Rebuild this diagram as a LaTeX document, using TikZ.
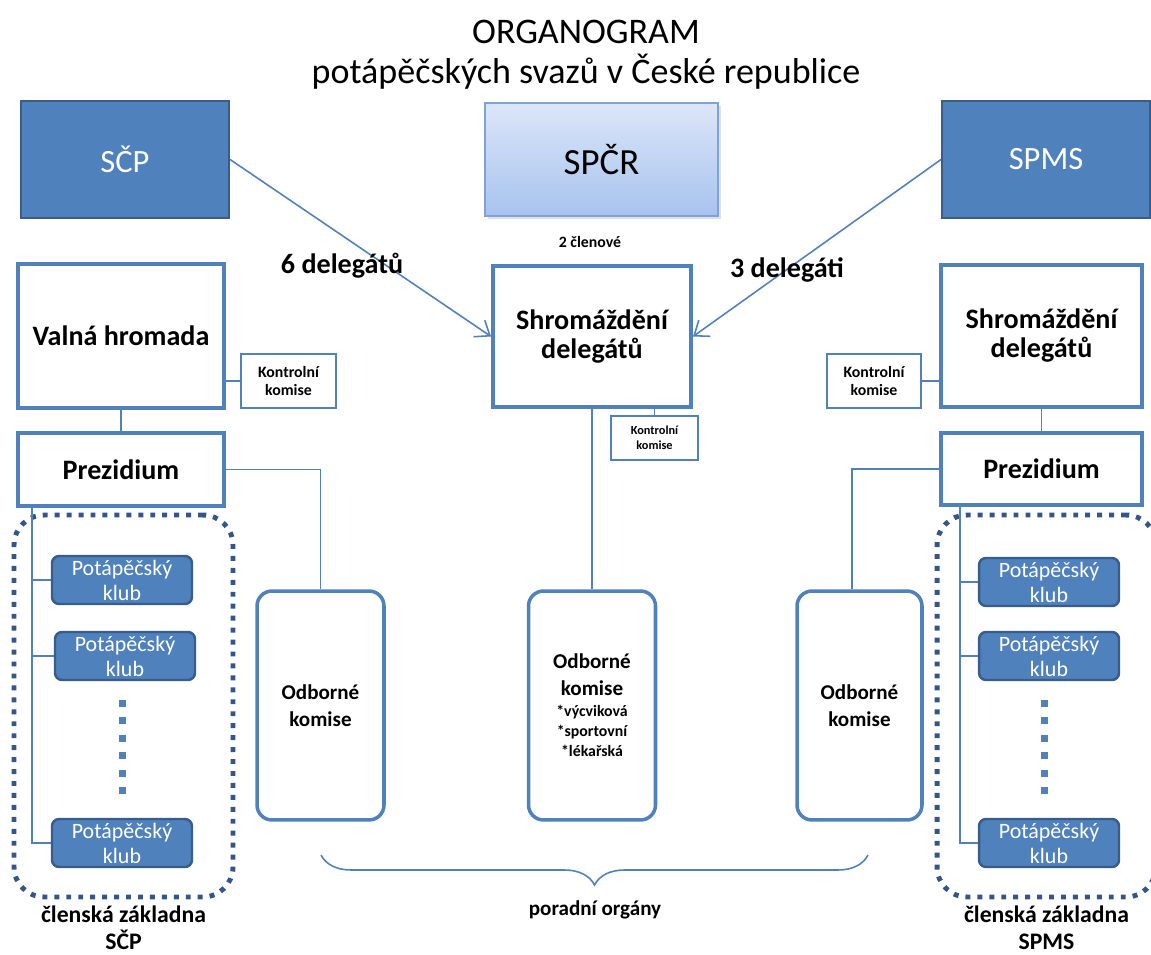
\documentclass[tikz,border=0pt]{standalone}
\usepackage{fontspec}
\setmainfont{Carlito}
\usepackage{tikz}
\usetikzlibrary{positioning,arrows.meta,decorations.pathreplacing,shadows}

\definecolor{ofblue}{HTML}{4F81BD}
\definecolor{ofdark}{HTML}{385D8A}
\definecolor{dotblue}{HTML}{34558A}
\definecolor{spcrtop}{HTML}{DCE6F8}
\definecolor{spcrbot}{HTML}{A7C3EE}
\definecolor{spcredge}{HTML}{7FA3D9}

\begin{document}
\begin{tikzpicture}[x=0.02cm, y=-0.02cm,
  head/.style={rectangle, draw=ofdark, line width=1.2pt, fill=ofblue, text=white, minimum width=4.16cm, minimum height=2.34cm, font=\fontsize{18.5}{22}\selectfont},
  organ/.style={rectangle, draw=ofblue, line width=2.3pt, fill=white, align=center, font=\bfseries\fontsize{16}{15}\selectfont},
  kontrol/.style={rectangle, draw=ofblue, line width=0.8pt, fill=white, align=center, font=\bfseries\fontsize{9}{10.5}\selectfont},
  odborne/.style={rectangle, draw=ofblue, line width=2pt, rounded corners=0.3cm, minimum width=2.54cm, minimum height=4.58cm, align=center, font=\bfseries\fontsize{12}{15.4}\selectfont},
  klub/.style={rectangle, draw=ofdark, line width=1.4pt, fill=ofblue, rounded corners=0.14cm, text=white, minimum width=2.8cm, minimum height=0.96cm, inner sep=0pt, align=center, font=\fontsize{12.5}{14.2}\selectfont},
  zakladna/.style={rectangle, draw=dotblue, line width=2.8pt, dash pattern=on 2.8pt off 4pt, rounded corners=0.6cm, minimum width=4.38cm, minimum height=7.64cm},
  spoj/.style={draw=ofblue, line width=0.9pt},
  delegace/.style={spoj, -{Straight Barb[length=2.6mm, width=4mm]}},
  popis/.style={inner sep=0pt, align=center, font=\bfseries\fontsize{13.5}{15.5}\selectfont}
]
\useasboundingbox (0,0) rectangle (1151,955);

% nadpis
\node[inner sep=0pt, align=center, font=\fontsize{20.5}{22.8}\selectfont] (nadpis) at (586,55) {ORGANOGRAM\\potápěčských svazů v České republice};

% svazy
\node[head] (scp) at (125,159.5) {SČP};
\node[head, minimum width=4.66cm, minimum height=2.26cm, draw=spcredge, line width=0.8pt, top color=spcrtop, bottom color=spcrbot, text=black, drop shadow={opacity=0.25, shadow xshift=0.06cm, shadow yshift=-0.06cm}, font=\fontsize{21}{24}\selectfont] (spcr) at (601.5,159.5) {SPČR};
\node[head] (spms) at (1046,159.5) {SPMS};

% SPCR
\node[inner sep=0pt, font=\bfseries\fontsize{9}{10}\selectfont] (clenove) at (590,242) {2 členové};
\node[organ, minimum width=3.96cm, minimum height=2.82cm, font=\bfseries\fontsize{16}{16.5}\selectfont] (sdC) at (592,336.5) {Shromáždění\\delegátů};
\node[kontrol, minimum width=1.74cm, minimum height=0.88cm, font=\bfseries\fontsize{7}{8.5}\selectfont] (kC) at (654.5,438) {Kontrolní\\komise};
\node[odborne] (odbC) at (592,705.5) {Odborné\\komise\\[-3.5pt]{\fontsize{9}{11}\selectfont *výcviková}\\[-4pt]{\fontsize{9}{11}\selectfont *sportovní}\\[-4pt]{\fontsize{9}{11}\selectfont *lékařská}};

% SCP
\node[organ, minimum width=4.12cm, minimum height=2.88cm] (valna) at (121,336) {Valná hromada};
\node[kontrol, minimum width=1.9cm, minimum height=1.08cm] (kL) at (288.5,381) {Kontrolní\\komise};
\node[organ, minimum width=4.12cm, minimum height=1.46cm] (prezL) at (121,469.5) {Prezidium};
\node[odborne] (odbL) at (320.5,705.5) {Odborné\\komise};
\node[zakladna] (zakL) at (123.5,706) {};
\node[klub] (klubL1) at (122,580) {Potápěčský\\klub};
\node[klub] (klubL2) at (125,656) {Potápěčský\\klub};
\node[klub] (klubL3) at (122,843) {Potápěčský\\klub};
\node[popis, below=0.12cm of zakL] (clenskaL) {členská základna\\SČP};

% SPMS
\node[organ, minimum width=4.02cm, minimum height=2.84cm, font=\bfseries\fontsize{16}{16.5}\selectfont] (sdR) at (1041.5,336) {Shromáždění\\delegátů};
\node[kontrol, minimum width=1.88cm, minimum height=1.08cm] (kR) at (874,381) {Kontrolní\\komise};
\node[organ, minimum width=4.02cm, minimum height=1.44cm] (prezR) at (1041.5,469) {Prezidium};
\node[odborne, minimum width=2.5cm] (odbR) at (859.5,705.5) {Odborné\\komise};
\node[zakladna] (zakR) at (1046.5,706) {};
\node[klub] (klubR1) at (1049,582) {Potápěčský\\klub};
\node[klub] (klubR2) at (1049,656) {Potápěčský\\klub};
\node[klub] (klubR3) at (1049,843) {Potápěčský\\klub};
\node[popis, below=0.12cm of zakR] (clenskaR) {členská základna\\SPMS};

% tecky mezi kluby
\foreach \i in {0,...,5} {
  \fill[ofblue] (118.5,{700+17.4*\i}) rectangle ++(7,7);
  \fill[ofblue] (1040.5,{700+17.4*\i}) rectangle ++(7,7);
}

% delegati
\draw[delegace] (scp.east) -- (sdC.west);
\draw[delegace] (spms.west) -- (sdC.east);
\node[inner sep=0pt, font=\bfseries\fontsize{16}{18}\selectfont] (del6) at (342,266) {6 delegátů};
\node[inner sep=0pt, font=\bfseries\fontsize{16}{18}\selectfont] (del3) at (787,270) {3 delegáti};

% spojnice
\draw[spoj] (valna.south) -- (prezL.north);
\draw[spoj] (kL.west) -- (kL.west -| valna.east);
\draw[spoj] (prezL.east) -| (odbL.north);
\draw[spoj] (sdC.south) -- (odbC.north);
\draw[spoj] (kC.north) -- (kC.north |- sdC.south);
\draw[spoj] (sdR.south) -- (prezR.north);
\draw[spoj] (kR.east) -- (kR.east -| sdR.west);
\draw[spoj] (prezR.west) -| ([xshift=-0.15cm]odbR.north);

\coordinate (kmenL) at (32,506);
\draw[spoj] (kmenL) |- (klubL3.west);
\draw[spoj] (kmenL |- klubL1.west) -- (klubL1.west);
\draw[spoj] (kmenL |- klubL2.west) -- (klubL2.west);
\coordinate (kmenR) at (960,505);
\draw[spoj] (kmenR) |- (klubR3.west);
\draw[spoj] (kmenR |- klubR1.west) -- (klubR1.west);
\draw[spoj] (kmenR |- klubR2.west) -- (klubR2.west);

% poradni organy
\coordinate (poradR) at (868,855);
\coordinate (poradL) at (321,855);
\draw[spoj, decorate, decoration={brace, amplitude=0.6cm}] (poradR) -- (poradL);
\node[popis, font=\bfseries\fontsize{12}{14}\selectfont] (poradni) at (595,910) {poradní orgány};
\end{tikzpicture}
\end{document}
